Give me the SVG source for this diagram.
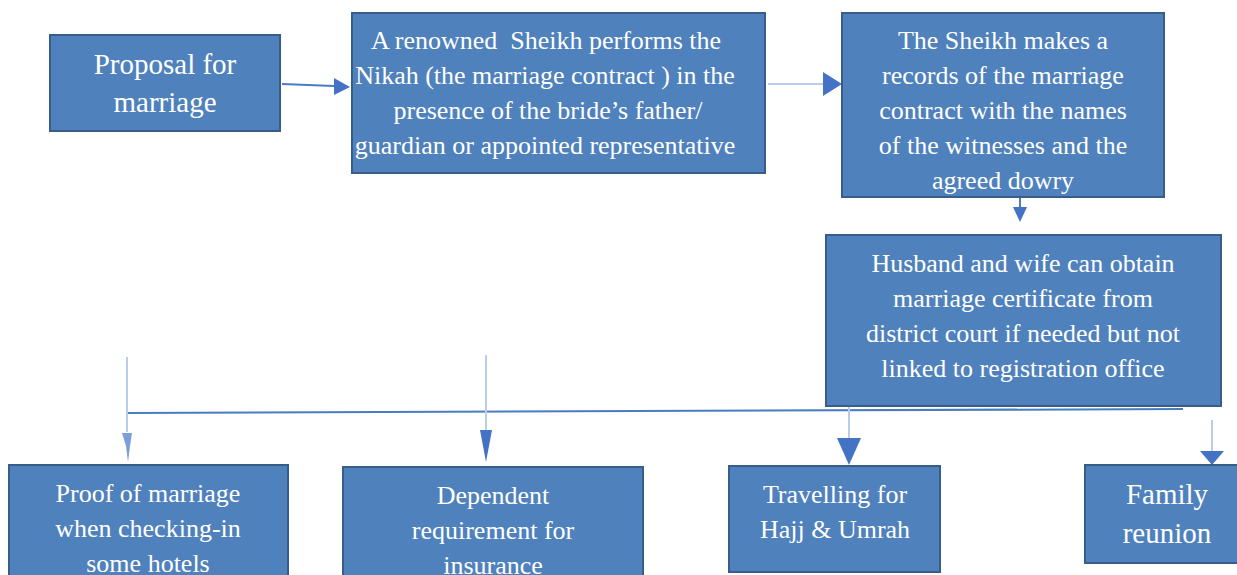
<svg xmlns="http://www.w3.org/2000/svg" width="1237" height="575" viewBox="0 0 1237 575">
  <style>
    .box { fill: #4f81bd; stroke: #385d8a; stroke-width: 2; }
    .lbl { fill: #ffffff; font-family: "Liberation Serif", "Times New Roman", serif; font-size: 26px; text-anchor: middle; }
    .big { font-size: 29px; }
    .conn { stroke: #4a7cc0; stroke-width: 2; fill: none; }
    .pale { stroke: #b9cdea; stroke-width: 2; fill: none; }
    .tip { fill: #4472c4; }
  </style>

  <g id="connectors">
    <line class="conn" x1="282" y1="84" x2="334" y2="86"/>
    <path class="tip" d="M334,78 L350,87 L334,95 Z"/>
    <line class="pale" x1="768" y1="84" x2="823" y2="84"/>
    <path class="tip" d="M823,72 L842,84 L823,96 Z"/>
    <line class="conn" x1="1020" y1="197" x2="1020" y2="207"/>
    <path class="tip" d="M1013,207 L1027,207 L1020,222 Z"/>
    <!-- shared bus line -->
    <line class="conn" x1="127" y1="413" x2="1183" y2="409"/>
    <line class="pale" x1="127" y1="357" x2="127" y2="432"/>
    <path d="M122,433 L132,433 L130,446 L128,462 L126,446 Z" fill="#5d86cf" opacity="0.8"/>
    <line class="pale" x1="486" y1="355" x2="486" y2="432"/>
    <path class="tip" d="M480,430 L492,430 L486,462 Z"/>
    <line class="pale" x1="849" y1="407" x2="849" y2="440"/>
    <path class="tip" d="M837,438 L861,438 L849,465 Z"/>
    <line class="pale" x1="1212" y1="420" x2="1212" y2="452"/>
    <path class="tip" d="M1200,451 L1224,451 L1212,465 Z"/>
  </g>

  <g id="proposal">
    <rect class="box" x="50" y="35" width="230" height="96"/>
    <text class="lbl big" x="165" y="74">Proposal for</text>
    <text class="lbl big" x="165" y="112">marriage</text>
  </g>

  <g id="nikah">
    <rect class="box" x="352" y="13" width="413" height="160"/>
    <text class="lbl" x="546" y="49" xml:space="preserve">A renowned  Sheikh performs the</text>
    <text class="lbl" x="545" y="84">Nikah (the marriage contract ) in the</text>
    <text class="lbl" x="548" y="119">presence of the bride’s father/</text>
    <text class="lbl" x="545" y="154">guardian or appointed representative</text>
  </g>

  <g id="records">
    <rect class="box" x="842" y="13" width="322" height="184"/>
    <text class="lbl" x="1003" y="49">The Sheikh makes a</text>
    <text class="lbl" x="1003" y="84">records of the marriage</text>
    <text class="lbl" x="1003" y="119">contract with the names</text>
    <text class="lbl" x="1003" y="154">of the witnesses and the</text>
    <text class="lbl" x="1003" y="189">agreed dowry</text>
  </g>

  <g id="certificate">
    <rect class="box" x="826" y="235" width="395" height="171"/>
    <text class="lbl" x="1023" y="272">Husband and wife can obtain</text>
    <text class="lbl" x="1023" y="307">marriage certificate from</text>
    <text class="lbl" x="1023" y="342">district court if needed but not</text>
    <text class="lbl" x="1023" y="377">linked to registration office</text>
  </g>

  <g id="hotels">
    <rect class="box" x="9" y="465" width="279" height="120"/>
    <text class="lbl" x="148" y="502">Proof of marriage</text>
    <text class="lbl" x="148" y="537">when checking-in</text>
    <text class="lbl" x="148" y="572">some hotels</text>
  </g>

  <g id="insurance">
    <rect class="box" x="343" y="467" width="300" height="120"/>
    <text class="lbl" x="493" y="504">Dependent</text>
    <text class="lbl" x="493" y="539">requirement for</text>
    <text class="lbl" x="493" y="574">insurance</text>
  </g>

  <g id="hajj">
    <rect class="box" x="729" y="466" width="211" height="106"/>
    <text class="lbl" x="835" y="503">Travelling for</text>
    <text class="lbl" x="835" y="538">Hajj &amp; Umrah</text>
  </g>

  <g id="reunion">
    <rect class="box" x="1085" y="465" width="160" height="98"/>
    <text class="lbl big" x="1167" y="504">Family</text>
    <text class="lbl big" x="1167" y="543">reunion</text>
  </g>
</svg>
